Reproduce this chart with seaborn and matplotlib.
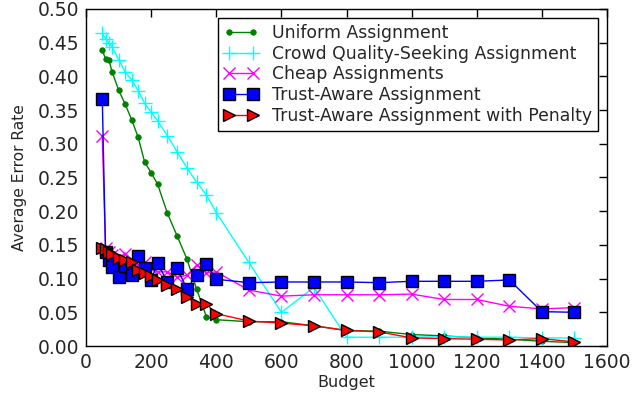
import numpy as np
import pandas as pd
import matplotlib
matplotlib.use("Agg")
import matplotlib.pyplot as plt
import seaborn as sns
from matplotlib.ticker import FormatStrFormatter, MultipleLocator

budgets = [50, 60, 70, 80, 100, 120, 140, 160, 180, 200, 220, 250, 280, 310, 340, 370, 400,
           500, 600, 700, 800, 900, 1000, 1100, 1200, 1300, 1400, 1500]

uniform = [0.439, 0.426, 0.425, 0.407, 0.380, 0.359, 0.336, 0.310, 0.273, 0.257, 0.240, 0.197,
           0.163, 0.129, 0.084, 0.043, 0.039, 0.036, 0.036, 0.030, 0.023, 0.022, 0.017, 0.015,
           0.012, 0.010, 0.007, 0.005]
quality = [0.464, 0.456, 0.450, 0.444, 0.425, 0.407, 0.395, 0.379, 0.360, 0.347, 0.334, 0.312,
           0.288, 0.264, 0.243, 0.224, 0.198, 0.124, 0.050, 0.087, 0.013, 0.013, 0.013, 0.014,
           0.013, 0.013, 0.012, 0.012]
cheap = [0.311, 0.145, 0.140, 0.135, 0.130, 0.137, 0.128, 0.120, 0.125, 0.115, 0.110, 0.110,
         0.102, 0.105, 0.120, 0.109, 0.110, 0.083, 0.074, 0.076, 0.076, 0.076, 0.077, 0.069,
         0.069, 0.059, 0.055, 0.057]
trust = [0.367, 0.140, 0.128, 0.117, 0.102, 0.119, 0.105, 0.133, 0.115, 0.098, 0.123, 0.095,
         0.115, 0.085, 0.105, 0.121, 0.099, 0.094, 0.095, 0.095, 0.095, 0.094, 0.096, 0.096,
         0.096, 0.098, 0.051, 0.050]
penalty = [0.146, 0.144, 0.140, 0.137, 0.131, 0.128, 0.124, 0.113, 0.109, 0.104, 0.098, 0.090,
           0.085, 0.072, 0.063, 0.062, 0.048, 0.037, 0.034, 0.030, 0.023, 0.021, 0.012, 0.011,
           0.010, 0.009, 0.011, 0.006]

labels = ["Uniform Assignment", "Crowd Quality-Seeking Assignment", "Cheap Assignments",
          "Trust-Aware Assignment", "Trust-Aware Assignment with Penalty"]

sns.set_style("white")
plt.rcParams["font.family"] = ["DejaVu Sans"]
plt.rcParams["xtick.direction"] = "in"
plt.rcParams["ytick.direction"] = "in"

fig = plt.figure(figsize=(6.34, 3.94), dpi=100)
ax = fig.add_axes([86 / 634, 1 - 346 / 394, (607 - 86) / 634, (346 - 9) / 394])

styles = [
    dict(color="#008000", marker="o", markersize=4, markeredgecolor="#008000", markeredgewidth=0.5),
    dict(color="#00FFFF", marker="+", markersize=10, markeredgecolor="#00FFFF", markeredgewidth=1),
    dict(color="#FF00FF", marker="x", markersize=8, markeredgecolor="#FF00FF", markeredgewidth=1),
    dict(color="#0000FF", marker="s", markersize=8.5, markeredgecolor="black", markeredgewidth=1),
    dict(color="#FF0000", marker=">", markersize=9, markeredgecolor="black", markeredgewidth=1),
]
series = [uniform, quality, cheap, trust, penalty]

for vals, lab, st in zip(series, labels, styles):
    df = pd.DataFrame({"Budget": budgets, "Error": vals})
    sns.lineplot(data=df, x="Budget", y="Error", ax=ax, label=lab, linewidth=1,
                 estimator=None, sort=False, **st)

ax.set_xlim(0, 1600)
ax.set_ylim(0, 0.5)
ax.xaxis.set_major_locator(MultipleLocator(200))
ax.yaxis.set_major_locator(MultipleLocator(0.05))
ax.yaxis.set_major_formatter(FormatStrFormatter("%.2f"))
ax.tick_params(axis="both", which="major", direction="in", length=5.5, width=1,
               top=True, right=True, labelsize=13.5, color="black", pad=5)
for sp in ax.spines.values():
    sp.set_visible(True)
    sp.set_color("black")
    sp.set_linewidth(1)

ax.set_xlabel("Budget", fontsize=11.5, labelpad=2.5)
ax.set_ylabel("Average Error Rate", fontsize=11.2, labelpad=7.5)

leg = ax.legend(loc="upper right", numpoints=2, fontsize=12.4, frameon=True, fancybox=False,
                shadow=False, framealpha=1, edgecolor="black", labelspacing=0.17,
                handlelength=2.0, handletextpad=0.8, borderpad=0.35, borderaxespad=0.5)
leg.get_frame().set_linewidth(1)

fig.savefig("out.png", dpi=100)
